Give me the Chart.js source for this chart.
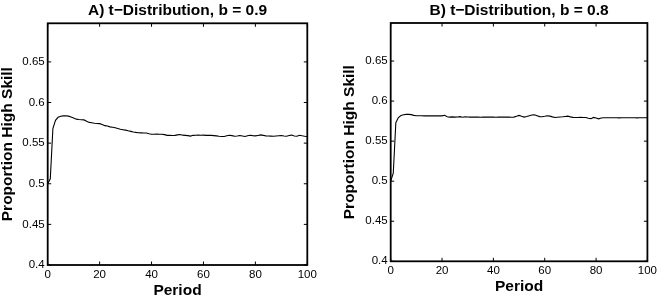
<!DOCTYPE html>
<html>
<head>
<meta charset="utf-8">
<script src="https://cdn.jsdelivr.net/npm/chart.js@4/dist/chart.umd.min.js"></script>
<style>
  html, body { margin: 0; padding: 0; background: #fff; }
  #wrap { position: relative; width: 660px; height: 304px; }
  canvas { position: absolute; top: 0; }
</style>
</head>
<body>
<div id="wrap">
  <canvas id="cA" width="330" height="304" style="left:0"></canvas>
  <canvas id="cB" width="330" height="304" style="left:330px"></canvas>
</div>
<script>
const periods = [0,1,2,3,4,5,6,7,8,9,10,11,12,13,14,15,16,17,18,19,20,21,22,23,24,25,26,27,28,29,30,31,32,33,34,35,36,37,38,39,40,41,42,43,44,45,46,47,48,49,50,51,52,53,54,55,56,57,58,59,60,61,62,63,64,65,66,67,68,69,70,71,72,73,74,75,76,77,78,79,80,81,82,83,84,85,86,87,88,89,90,91,92,93,94,95,96,97,98,99,100];

const seriesA = [0.5000,0.5060,0.5680,0.5780,0.5818,0.5830,0.5835,0.5837,0.5832,0.5822,
  0.5808,0.5795,0.5790,0.5788,0.5786,0.5770,0.5755,0.5750,0.5745,0.5742,
  0.5740,0.5730,0.5715,0.5710,0.5700,0.5695,0.5690,0.5680,0.5670,0.5665,
  0.5660,0.5652,0.5645,0.5638,0.5632,0.5627,0.5626,0.5625,0.5624,0.5615,
  0.5610,0.5610,0.5611,0.5609,0.5610,0.5605,0.5596,0.5595,0.5594,0.5596,
  0.5602,0.5606,0.5598,0.5596,0.5592,0.5587,0.5596,0.5597,0.5598,0.5597,
  0.5598,0.5596,0.5597,0.5595,0.5592,0.5589,0.5585,0.5582,0.5581,0.5590,
  0.5597,0.5592,0.5585,0.5588,0.5593,0.5587,0.5581,0.5591,0.5597,0.5592,
  0.5589,0.5595,0.5601,0.5596,0.5589,0.5587,0.5586,0.5585,0.5588,0.5591,
  0.5593,0.5588,0.5585,0.5593,0.5599,0.5588,0.5585,0.5597,0.5590,0.5585,
  0.5581];

const seriesB = [0.5000,0.5100,0.5730,0.5795,0.5820,0.5830,0.5834,0.5834,0.5831,0.5822,
  0.5818,0.5817,0.5817,0.5816,0.5817,0.5816,0.5816,0.5817,0.5816,0.5815,
  0.5816,0.5823,0.5805,0.5800,0.5803,0.5800,0.5802,0.5806,0.5799,0.5805,
  0.5801,0.5800,0.5800,0.5801,0.5800,0.5799,0.5800,0.5800,0.5801,0.5800,
  0.5800,0.5799,0.5800,0.5800,0.5801,0.5800,0.5800,0.5799,0.5800,0.5810,
  0.5821,0.5810,0.5800,0.5808,0.5818,0.5826,0.5829,0.5818,0.5806,0.5804,
  0.5810,0.5817,0.5812,0.5803,0.5796,0.5799,0.5802,0.5804,0.5808,0.5812,
  0.5803,0.5797,0.5796,0.5796,0.5797,0.5796,0.5796,0.5785,0.5781,0.5796,
  0.5788,0.5779,0.5790,0.5793,0.5792,0.5792,0.5793,0.5792,0.5792,0.5791,
  0.5792,0.5792,0.5793,0.5792,0.5792,0.5792,0.5791,0.5792,0.5792,0.5792,
  0.5792];

const yTicks = [0.4, 0.45, 0.5, 0.55, 0.6, 0.65];
const xTicks = [0, 20, 40, 60, 80, 100];
const titleA = 'A) t\u2212Distribution, b = 0.9';
const titleB = 'B) t\u2212Distribution, b = 0.8';
const xLabel = 'Period';
const yLabel = 'Proportion High Skill';

const FONT = '"Liberation Sans", Arial, Helvetica, sans-serif';

const boxPlugin = {
  id: 'boxTicks',
  afterDraw(chart) {
    const {ctx, chartArea: a, scales} = chart;
    ctx.save();
    ctx.strokeStyle = '#000';
    ctx.lineWidth = 1;
    const tl = 3.5;
    ctx.beginPath();
    scales.x.ticks.forEach(t => {
      const px = scales.x.getPixelForValue(t.value);
      ctx.moveTo(px, a.bottom); ctx.lineTo(px, a.bottom - tl);
      ctx.moveTo(px, a.top); ctx.lineTo(px, a.top + tl);
    });
    scales.y.ticks.forEach(t => {
      const py = scales.y.getPixelForValue(t.value);
      ctx.moveTo(a.left, py); ctx.lineTo(a.left + tl, py);
      ctx.moveTo(a.right, py); ctx.lineTo(a.right - tl, py);
    });
    ctx.stroke();
    ctx.lineWidth = 1.8;
    ctx.strokeRect(a.left, a.top, a.right - a.left, a.bottom - a.top);
    ctx.restore();
  }
};

function makeChart(id, values, title, cfg) {
  return new Chart(document.getElementById(id), {
    type: 'line',
    data: {
      datasets: [{
        data: periods.map((p, i) => ({x: p, y: values[i]})),
        borderColor: '#000',
        borderWidth: 1.1,
        pointRadius: 0,
        tension: 0,
        fill: false
      }]
    },
    options: {
      responsive: false,
      animation: false,
      layout: { padding: { left: cfg.padLeft, right: cfg.padRight, top: 0, bottom: 0 } },
      plugins: {
        legend: { display: false },
        tooltip: { enabled: false },
        title: {
          display: true,
          text: title,
          fullSize: false,
          color: '#000',
          font: { family: FONT, size: 15.5, weight: 'bold', lineHeight: 1.2 },
          padding: { top: 1.7, bottom: cfg.titleBottom }
        }
      },
      scales: {
        x: {
          type: 'linear',
          min: 0, max: 100,
          afterBuildTicks: s => { s.ticks = xTicks.map(v => ({value: v})); },
          afterFit: s => { s.height = cfg.xHeight; },
          grid: { display: false, drawTicks: false, tickLength: 0 },
          border: { display: false },
          ticks: {
            color: '#000', padding: 3, maxRotation: 0, autoSkip: false,
            font: { family: FONT, size: 11.5 }
          },
          title: {
            display: true, text: xLabel, color: '#000',
            font: { family: FONT, size: 15.5, weight: 'bold', lineHeight: 1.2 },
            padding: { top: 0, bottom: cfg.xTitleBottom }
          }
        },
        y: {
          type: 'linear',
          min: 0.4, max: 0.6975,
          afterBuildTicks: s => { s.ticks = yTicks.map(v => ({value: v})); },
          afterFit: s => { s.width = cfg.yWidth; },
          grid: { display: false, drawTicks: false, tickLength: 0 },
          border: { display: false },
          ticks: {
            color: '#000', padding: 3, autoSkip: false,
            font: { family: FONT, size: 11.5 },
            callback: v => String(Math.round(v * 100) / 100)
          },
          title: {
            display: true, text: yLabel, color: '#000',
            font: { family: FONT, size: 15.5, weight: 'bold', lineHeight: 1 },
            padding: { top: 0, bottom: 0 }
          }
        }
      }
    },
    plugins: [boxPlugin]
  });
}

makeChart('cA', seriesA, titleA, {
  padLeft: 0, padRight: 22.7, titleBottom: 3.0,
  xHeight: 39, xTitleBottom: 4.3, yWidth: 47.7
});
makeChart('cB', seriesB, titleB, {
  padLeft: 11.75, padRight: 9.3, titleBottom: 2.7,
  xHeight: 42.7, xTitleBottom: 7.9, yWidth: 48.95
});
</script>
</body>
</html>
